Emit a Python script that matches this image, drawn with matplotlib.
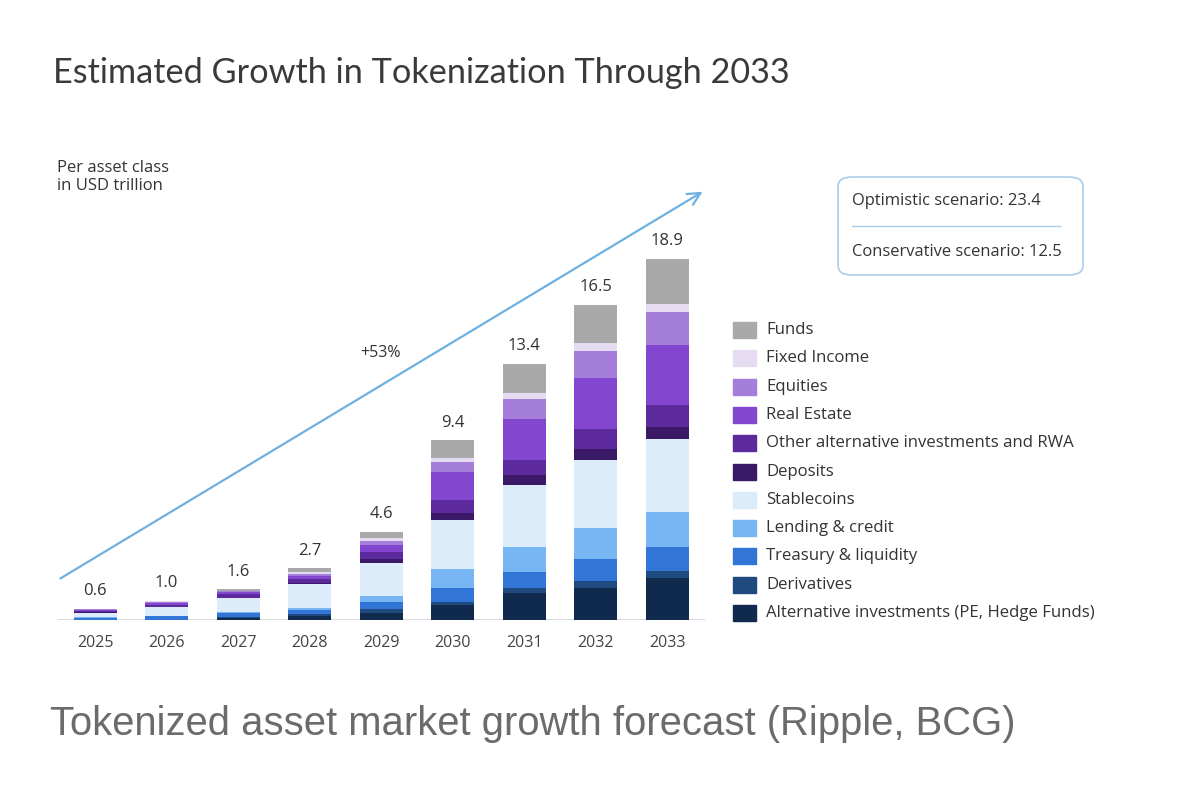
import matplotlib
matplotlib.use("Agg")
import matplotlib.pyplot as plt
from matplotlib.patches import FancyBboxPatch, Rectangle
from matplotlib.lines import Line2D

plt.rcParams['font.family'] = ['Open Sans', 'DejaVu Sans']

years = ['2025', '2026', '2027', '2028', '2029', '2030', '2031', '2032', '2033']
totals = [0.6, 1.0, 1.6, 2.7, 4.6, 9.4, 13.4, 16.5, 18.9]

# segments, bottom to top (USD trillion)
alt_inv = [0.00, 0.00, 0.10, 0.21, 0.35, 0.78, 1.40, 1.69, 2.18]
derivatives = [0.00, 0.02, 0.06, 0.10, 0.21, 0.17, 0.30, 0.37, 0.40]
treasury = [0.12, 0.17, 0.20, 0.21, 0.40, 0.73, 0.79, 1.13, 1.22]
lending = [0.02, 0.03, 0.05, 0.09, 0.30, 1.01, 1.33, 1.64, 1.83]
stablecoins = [0.25, 0.45, 0.73, 1.26, 1.75, 2.56, 3.26, 3.57, 3.87]
deposits = [0.01, 0.02, 0.03, 0.05, 0.17, 0.35, 0.52, 0.57, 0.61]
other_alt = [0.08, 0.12, 0.18, 0.23, 0.40, 0.66, 0.79, 1.01, 1.13]
real_estate = [0.04, 0.08, 0.10, 0.17, 0.35, 1.48, 2.15, 2.68, 3.14]
equities = [0.04, 0.05, 0.05, 0.09, 0.23, 0.54, 1.03, 1.41, 1.75]
fixed_income = [0.02, 0.03, 0.04, 0.09, 0.12, 0.21, 0.31, 0.42, 0.40]
funds = [0.02, 0.03, 0.06, 0.21, 0.35, 0.91, 1.54, 2.02, 2.36]

series = [
    ("Alternative investments (PE, Hedge Funds)", alt_inv, "#0f2a4d"),
    ("Derivatives", derivatives, "#1e4a80"),
    ("Treasury & liquidity", treasury, "#3176d6"),
    ("Lending & credit", lending, "#77b6f2"),
    ("Stablecoins", stablecoins, "#dcecfb"),
    ("Deposits", deposits, "#3a1a66"),
    ("Other alternative investments and RWA", other_alt, "#5c2a9d"),
    ("Real Estate", real_estate, "#8347cf"),
    ("Equities", equities, "#a57ddb"),
    ("Fixed Income", fixed_income, "#e6dcf2"),
    ("Funds", funds, "#a9a9a9"),
]

optimistic = 23.4
conservative = 12.5
cagr = "+53%"

W, H = 1179, 790
fig = plt.figure(figsize=(W / 100, H / 100), dpi=100)


def fx(px):
    return px / W


def fy(py):
    return 1 - py / H


# main axes: baseline at y=620px, 19.1 px per trillion
ymax = 24
ax = fig.add_axes([fx(58), fy(620), fx(705) - fx(58), (ymax * 19.1) / H])
ax.set_xlim(-0.52, 8.53)
ax.set_ylim(0, ymax)
for s in ax.spines.values():
    s.set_visible(False)
ax.set_yticks([])
ax.set_xticks(range(len(years)))
ax.set_xticklabels(years, fontsize=11.5, color="#444444")
ax.tick_params(axis="x", length=0, pad=11)
ax.axhline(0, color="#cfd3d8", lw=1.2, zorder=1)

x = list(range(len(years)))
bottom = [0.0] * len(years)
for name, vals, col in series:
    ax.bar(x, vals, bottom=bottom, width=0.6, color=col, edgecolor="none", zorder=2)
    bottom = [b + v for b, v in zip(bottom, vals)]

for xi, tot, top in zip(x, totals, bottom):
    ax.annotate(f"{tot:.1f}", (xi, top), xytext=(0, 7), textcoords="offset points",
                ha="center", va="bottom", fontsize=12, color="#333333")

# growth arrow
ax.annotate("", xy=(8.53, 22.5), xytext=(-0.52, 2.1),
            arrowprops=dict(arrowstyle="->,head_length=0.9,head_width=0.45",
                            color="#6fb0e0", lw=1.6),
            annotation_clip=False)
ax.text(3.99, 13.98, cagr, ha="center", va="center", fontsize=11.5, color="#333333")

# titles
fig.text(fx(53), fy(73), "Estimated Growth in Tokenization Through 2033",
         fontsize=24.7, color="#3a3a3a", va="center", ha="left",
         family=["Lato", "DejaVu Sans"])
fig.text(fx(57), fy(177), "Per asset class\nin USD trillion", fontsize=12,
         color="#333333", va="center", ha="left", linespacing=1.2)
fig.text(fx(50), fy(724), "Tokenized asset market growth forecast (Ripple, BCG)",
         fontsize=28.8, color="#6b6b6b", va="center", ha="left",
         family=["Liberation Sans", "DejaVu Sans"])

# legend (drawn row by row, top entry = top of the stack)
row_y = 330
for name, vals, col in reversed(series):
    fig.patches.append(Rectangle((fx(733), fy(row_y + 8)), fx(23), 16 / H,
                                 transform=fig.transFigure, color=col))
    fig.text(fx(766), fy(row_y), name, fontsize=12.1, color="#333333",
             va="center", ha="left")
    row_y += 28.3

# scenario box
box = FancyBboxPatch((fx(838), fy(275)), fx(1083 - 838), (275 - 177) / H,
                     boxstyle="round,pad=0,rounding_size=0.012",
                     transform=fig.transFigure, facecolor="white",
                     edgecolor="#a9cde8", lw=1.2)
fig.patches.append(box)
fig.text(fx(852), fy(201), f"Optimistic scenario: {optimistic}", fontsize=11.9,
         color="#333333", va="center", ha="left")
fig.lines.append(Line2D([fx(852), fx(1060)], [fy(226), fy(226)],
                        transform=fig.transFigure, color="#a9cde8", lw=1))
fig.text(fx(852), fy(252), f"Conservative scenario: {conservative}", fontsize=11.9,
         color="#333333", va="center", ha="left")

fig.savefig("out.png", dpi=100, facecolor="white")
